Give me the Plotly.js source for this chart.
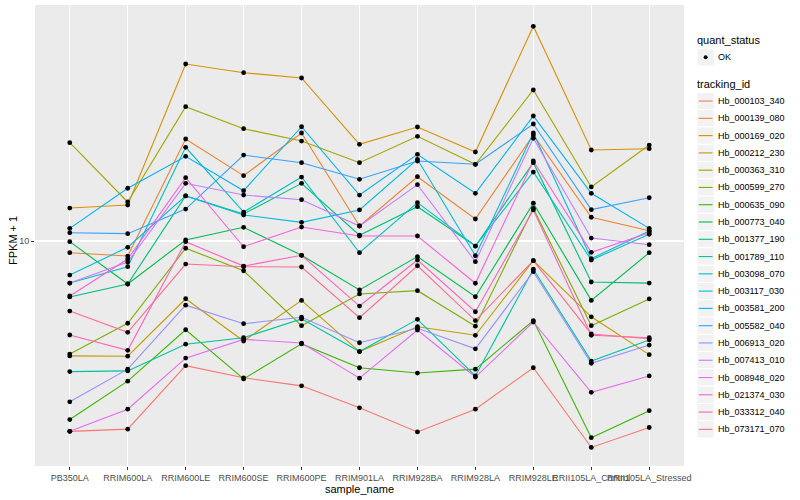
<!DOCTYPE html>
<html><head><meta charset="utf-8">
<script src="https://cdn.plot.ly/plotly-3.0.1.min.js"></script>
<style>html,body{margin:0;padding:0;background:#fff}#chart{width:800px;height:500px}</style>
</head><body><div id="chart"></div>
<script>
// ---- data ----
const sampleNames = ['PB350LA','RRIM600LA','RRIM600LE','RRIM600SE','RRIM600PE','RRIM901LA','RRIM928BA','RRIM928LA','RRIM928LE','RRII105LA_Control','RRII105LA_Stressed'];
const trackingIds = ['Hb_000103_340','Hb_000139_080','Hb_000169_020','Hb_000212_230','Hb_000363_310','Hb_000599_270','Hb_000635_090','Hb_000773_040','Hb_001377_190','Hb_001789_110','Hb_003098_070','Hb_003117_030','Hb_003581_200','Hb_005582_040','Hb_006913_020','Hb_007413_010','Hb_008948_020','Hb_021374_030','Hb_033312_040','Hb_073171_070'];
const trackColors = ['#F8766D','#EA8331','#D89000','#C09B00','#A3A500','#7CAE00','#39B600','#00BB4E','#00BF7D','#00C1A3','#00BFC4','#00BAE0','#00B0F6','#35A2FF','#9590FF','#C77CFF','#E76BF3','#FA62DB','#FF62BC','#FF6C91'];
const quantStatus = ['OK'];

// FPKM + 1 per tracking id, in sampleNames order
const fpkm_Hb_000103_340 = [2.32, 2.36, 3.84, 3.50, 3.29, 2.78, 2.31, 2.75, 3.78, 2.05, 2.39];
const fpkm_Hb_000139_080 = [9.14, 8.91, 21.88, 16.51, 22.91, 11.22, 16.38, 11.84, 22.56, 12.00, 10.82];
const fpkm_Hb_000169_020 = [12.88, 13.18, 38.90, 36.39, 34.94, 21.01, 23.99, 19.80, 51.96, 20.11, 20.31];
const fpkm_Hb_000212_230 = [4.14, 4.13, 6.42, 4.64, 6.34, 4.28, 5.18, 4.85, 8.60, 5.59, 4.18];
const fpkm_Hb_000363_310 = [21.27, 13.49, 28.03, 23.68, 21.54, 18.24, 22.34, 18.02, 31.87, 15.14, 20.89];
const fpkm_Hb_000599_270 = [4.20, 5.32, 9.46, 7.96, 5.22, 6.66, 6.83, 5.20, 12.85, 5.22, 6.41];
const fpkm_Hb_000635_090 = [2.54, 3.41, 5.06, 3.47, 4.54, 3.78, 3.63, 3.74, 5.43, 2.21, 2.72];
const fpkm_Hb_000773_040 = [9.95, 7.19, 10.08, 11.11, 8.96, 6.87, 8.87, 6.52, 13.36, 6.34, 9.14];
const fpkm_Hb_001377_190 = [6.51, 7.19, 14.13, 12.30, 15.57, 10.45, 13.01, 9.62, 18.24, 7.30, 7.24];
const fpkm_Hb_001789_110 = [3.67, 3.69, 4.53, 4.76, 5.50, 4.28, 5.48, 3.55, 8.05, 3.98, 4.68];
const fpkm_Hb_003098_070 = [7.24, 8.21, 20.53, 12.49, 16.34, 9.14, 13.42, 9.62, 16.98, 8.64, 10.53];
const fpkm_Hb_003117_030 = [7.70, 9.53, 14.13, 12.21, 11.54, 12.69, 18.72, 8.93, 22.91, 8.73, 10.80];
const fpkm_Hb_003581_200 = [11.02, 14.99, 19.16, 14.71, 24.04, 14.23, 19.45, 14.42, 26.10, 14.42, 11.02];
const fpkm_Hb_005582_040 = [10.66, 10.58, 12.78, 19.34, 18.24, 16.06, 18.48, 18.02, 24.55, 12.72, 13.94];
const fpkm_Hb_006913_020 = [2.91, 3.74, 6.11, 5.30, 5.57, 4.58, 5.12, 4.37, 7.90, 3.91, 4.50];
const fpkm_Hb_007413_010 = [7.24, 8.51, 15.57, 14.23, 13.73, 11.22, 15.41, 8.53, 21.99, 10.23, 9.72];
const fpkm_Hb_008948_020 = [2.32, 2.75, 4.07, 4.70, 4.57, 3.49, 5.05, 3.52, 5.37, 3.13, 3.55];
const fpkm_Hb_021374_030 = [6.56, 8.71, 16.26, 9.57, 11.13, 10.39, 10.39, 7.23, 18.48, 9.17, 10.66];
const fpkm_Hb_033312_040 = [4.86, 4.32, 9.95, 8.25, 8.96, 6.07, 8.64, 5.81, 12.69, 4.85, 4.76];
const fpkm_Hb_073171_070 = [5.84, 4.96, 8.38, 8.21, 8.19, 5.55, 8.27, 5.43, 8.60, 4.90, 4.72];

const seriesValues = [fpkm_Hb_000103_340, fpkm_Hb_000139_080, fpkm_Hb_000169_020, fpkm_Hb_000212_230, fpkm_Hb_000363_310, fpkm_Hb_000599_270, fpkm_Hb_000635_090, fpkm_Hb_000773_040, fpkm_Hb_001377_190, fpkm_Hb_001789_110, fpkm_Hb_003098_070, fpkm_Hb_003117_030, fpkm_Hb_003581_200, fpkm_Hb_005582_040, fpkm_Hb_006913_020, fpkm_Hb_007413_010, fpkm_Hb_008948_020, fpkm_Hb_021374_030, fpkm_Hb_033312_040, fpkm_Hb_073171_070];

// ---- traces ----
const traces = [];
seriesValues.forEach((vals, i) => {
  traces.push({type:'scatter', mode:'lines', x: sampleNames, y: vals, name: trackingIds[i],
    line:{color: trackColors[i], width:1.1}, hoverinfo:'skip'});
});
const allX = [], allY = [];
seriesValues.forEach(vals => { vals.forEach((v, j) => { allX.push(sampleNames[j]); allY.push(v); }); });
traces.push({type:'scatter', mode:'markers', x: allX, y: allY, name: quantStatus[0],
  marker:{color:'#000', size:4.8}, hoverinfo:'skip'});

// ---- layout geometry (pixels) ----
const W = 800, H = 500, L = 35, R = 684, T = 5, B = 466;
const px2x = p => (p - L) / (R - L);
const py2y = p => (B - p) / (B - T);

const shapes = [], annotations = [];
const keyX0 = 697, keySize = 17.28;
// y-axis title
annotations.push({xref:'paper', yref:'paper', x:px2x(13), y:py2y(241), text:'FPKM + 1', textangle:-90, showarrow:false, xanchor:'center', yanchor:'middle', font:{size:11, color:'#000'}});
annotations.push({xref:'paper', yref:'paper', x:px2x(695), y:py2y(40.5), text:'quant_status', showarrow:false, xanchor:'left', yanchor:'middle', font:{size:11, color:'#000'}});
shapes.push({type:'rect', xref:'paper', yref:'paper', x0:px2x(keyX0), x1:px2x(keyX0+keySize), y0:py2y(48.7), y1:py2y(48.7+keySize), fillcolor:'#F2F2F2', line:{color:'#FFFFFF', width:1}, layer:'above'});
shapes.push({type:'circle', xref:'paper', yref:'paper', x0:px2x(keyX0+keySize/2-2), x1:px2x(keyX0+keySize/2+2), y0:py2y(48.7+keySize/2-2), y1:py2y(48.7+keySize/2+2), fillcolor:'#000', line:{color:'#000', width:0}, layer:'above'});
annotations.push({xref:'paper', yref:'paper', x:px2x(716), y:py2y(48.7+keySize/2), text:quantStatus[0], showarrow:false, xanchor:'left', yanchor:'middle', font:{size:9, color:'#000'}});
annotations.push({xref:'paper', yref:'paper', x:px2x(695), y:py2y(84.3), text:'tracking_id', showarrow:false, xanchor:'left', yanchor:'middle', font:{size:11, color:'#000'}});
const firstKeyTop = 92.4;
trackingIds.forEach((id, i) => {
  const top = firstKeyTop + i*keySize, mid = top + keySize/2;
  shapes.push({type:'rect', xref:'paper', yref:'paper', x0:px2x(keyX0), x1:px2x(keyX0+keySize), y0:py2y(top), y1:py2y(top+keySize), fillcolor:'#F2F2F2', line:{color:'#FFFFFF', width:1}, layer:'above'});
  shapes.push({type:'line', xref:'paper', yref:'paper', x0:px2x(keyX0+1.7), x1:px2x(keyX0+keySize-1.7), y0:py2y(mid), y1:py2y(mid), line:{color:trackColors[i], width:1.1}, layer:'above'});
  annotations.push({xref:'paper', yref:'paper', x:px2x(716), y:py2y(mid), text:id, showarrow:false, xanchor:'left', yanchor:'middle', font:{size:9, color:'#000'}});
});

const layout = {
  width:W, height:H, showlegend:false,
  margin:{l:L, r:W-R, t:T, b:H-B, pad:0},
  paper_bgcolor:'#FFFFFF', plot_bgcolor:'#EBEBEB',
  font:{family:'"Liberation Sans", Arial, sans-serif', color:'#000'},
  xaxis:{type:'category', categoryorder:'array', categoryarray:sampleNames, range:[-0.6, 10.6],
    showgrid:true, gridcolor:'#FFFFFF', gridwidth:1.1, zeroline:false, showline:false,
    ticks:'outside', ticklen:3, tickwidth:1, tickcolor:'#333333', tickangle:0,
    tickfont:{size:9, color:'#4D4D4D'}, automargin:false,
    title:{text:'sample_name', font:{size:11, color:'#000'}, standoff:2}},
  yaxis:{type:'log', range:[0.25, 1.7867], tickvals:[10], ticktext:['10'],
    showgrid:true, gridcolor:'#FFFFFF', gridwidth:1.1, zeroline:false, showline:false,
    ticks:'outside', ticklen:3, tickwidth:1, tickcolor:'#333333',
    tickfont:{size:9, color:'#4D4D4D'}, automargin:false},
  shapes: shapes, annotations: annotations
};
Plotly.newPlot('chart', traces, layout, {staticPlot:true, displayModeBar:false});
</script></body></html>
